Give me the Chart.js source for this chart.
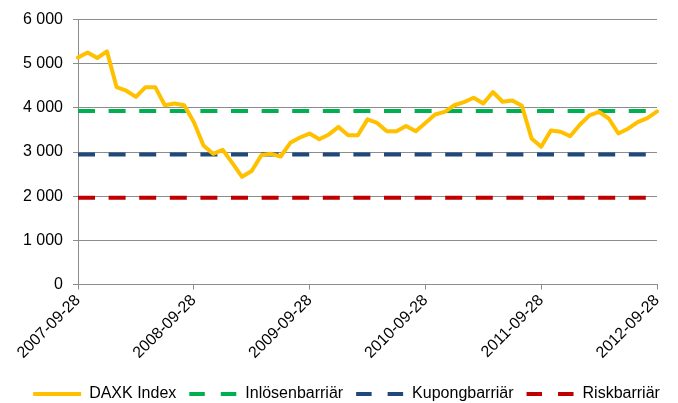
<!DOCTYPE html>
<html>
<head>
<meta charset="utf-8">
<script src="https://cdn.jsdelivr.net/npm/chart.js@4/dist/chart.umd.min.js"></script>
<style>
  html, body { margin: 0; padding: 0; background: #fff; }
  #wrap { width: 678px; height: 403px; }
</style>
</head>
<body>
<div id="wrap"><canvas id="c" width="678" height="403"></canvas></div>
<script>
// Monthly observation dates
const dates = [
  '2007-09-28','2007-10-28','2007-11-28','2007-12-28',
  '2008-01-28','2008-02-28','2008-03-28','2008-04-28','2008-05-28','2008-06-28','2008-07-28','2008-08-28','2008-09-28','2008-10-28','2008-11-28','2008-12-28',
  '2009-01-28','2009-02-28','2009-03-28','2009-04-28','2009-05-28','2009-06-28','2009-07-28','2009-08-28','2009-09-28','2009-10-28','2009-11-28','2009-12-28',
  '2010-01-28','2010-02-28','2010-03-28','2010-04-28','2010-05-28','2010-06-28','2010-07-28','2010-08-28','2010-09-28','2010-10-28','2010-11-28','2010-12-28',
  '2011-01-28','2011-02-28','2011-03-28','2011-04-28','2011-05-28','2011-06-28','2011-07-28','2011-08-28','2011-09-28','2011-10-28','2011-11-28','2011-12-28',
  '2012-01-28','2012-02-28','2012-03-28','2012-04-28','2012-05-28','2012-06-28','2012-07-28','2012-08-28','2012-09-28'
];
// Tick labels shown on the x axis
const yearTicks = ['2007-09-28','2008-09-28','2009-09-28','2010-09-28','2011-09-28','2012-09-28'];

// DAXK Index values
const daxk = [
  5140,5255,5130,5280,
  4470,4390,4250,4470,4470,4060,4100,4060,3680,3150,2960,3050,
  2750,2440,2570,2930,2960,2900,3210,3330,3420,3290,3400,3570,
  3380,3380,3740,3660,3470,3470,3590,3470,3660,3850,3910,4060,
  4130,4230,4100,4360,4140,4170,4050,3310,3120,3490,3460,3360,
  3620,3830,3910,3760,3420,3530,3680,3770,3920
];

// Barrier levels
const inlosenLevel = 3930;
const kupongLevel = 2947;
const riskLevel = 1965;

const seriesNames = ['DAXK Index','Inlösenbarriär','Kupongbarriär','Riskbarriär'];
const seriesColors = ['#FFC000','#00B050','#1F497D','#C00000'];

const yTicks = [0,1000,2000,3000,4000,5000,6000];

const firstDate = dates[0];
const lastDate = dates[dates.length - 1];

function levelLine(v) {
  return [{x: firstDate, y: v}, {x: lastDate, y: v}];
}

const dash = [17, 13.6];
const FONT = "'Liberation Sans', Arial, sans-serif";

// nudge the legend to sit where the reference legend sits
const legendShift = {
  id: 'legendShift',
  afterLayout(chart) {
    const lg = chart.legend;
    if (lg) { lg.top += 9; lg.bottom += 9; lg.left += 18; lg.right += 18; }
  }
};

const cfg = {
  type: 'line',
  data: {
    labels: dates,
    datasets: [
      { label: seriesNames[0], data: daxk, borderColor: seriesColors[0], backgroundColor: seriesColors[0],
        borderWidth: 4, pointRadius: 0, tension: 0, borderJoinStyle: 'round', borderCapStyle: 'round', order: 0 },
      { label: seriesNames[1], data: levelLine(inlosenLevel), borderColor: seriesColors[1], backgroundColor: seriesColors[1],
        borderWidth: 4, pointRadius: 0, borderDash: dash, order: 1 },
      { label: seriesNames[2], data: levelLine(kupongLevel), borderColor: seriesColors[2], backgroundColor: seriesColors[2],
        borderWidth: 4, pointRadius: 0, borderDash: dash, order: 2 },
      { label: seriesNames[3], data: levelLine(riskLevel), borderColor: seriesColors[3], backgroundColor: seriesColors[3],
        borderWidth: 4, pointRadius: 0, borderDash: dash, order: 3 }
    ]
  },
  plugins: [legendShift],
  options: {
    responsive: false,
    animation: false,
    devicePixelRatio: 1,
    layout: { padding: { left: 0, right: 21, top: 12, bottom: 0 } },
    plugins: {
      tooltip: { enabled: false },
      legend: {
        position: 'bottom',
        labels: {
          usePointStyle: true,
          pointStyle: 'line',
          pointStyleWidth: 48,
          padding: 13,
          color: '#000',
          font: { family: FONT, size: 16 },
          generateLabels: function(chart) {
            return chart.data.datasets.map(function(ds, i) {
              return {
                text: ds.label,
                fillStyle: ds.borderColor,
                strokeStyle: ds.borderColor,
                lineWidth: 4,
                lineDash: i === 0 ? [] : [15.5, 16],
                lineCap: 'butt',
                pointStyle: 'line',
                hidden: false,
                datasetIndex: i,
                fontColor: '#000'
              };
            });
          }
        }
      }
    },
    scales: {
      x: {
        type: 'category',
        offset: false,
        grid: {
          display: true,
          drawOnChartArea: false,
          drawTicks: true,
          tickLength: 5,
          color: '#8C8C8C',
          lineWidth: 1
        },
        border: { display: true, color: '#8C8C8C', width: 1 },
        ticks: {
          autoSkip: false,
          minRotation: 45,
          maxRotation: 45,
          padding: 1.5,
          color: '#000',
          font: { family: FONT, size: 16 },
          callback: function(val, idx) {
            const lab = this.getLabelForValue(val);
            return yearTicks.indexOf(lab) >= 0 ? lab : null;
          }
        }
      },
      y: {
        min: yTicks[0],
        max: yTicks[yTicks.length - 1],
        grid: { color: '#8C8C8C', lineWidth: 1, tickLength: 5, drawTicks: true },
        border: { display: true, color: '#8C8C8C', width: 1 },
        ticks: {
          stepSize: 1000,
          padding: 10,
          color: '#000',
          font: { family: FONT, size: 16 },
          callback: function(v) { return String(v).replace(/\B(?=(\d{3})+(?!\d))/g, ' '); }
        },
        afterFit: function(scale) { scale.width = 78; }
      }
    }
  }
};

new Chart(document.getElementById('c'), cfg);
</script>
</body>
</html>
